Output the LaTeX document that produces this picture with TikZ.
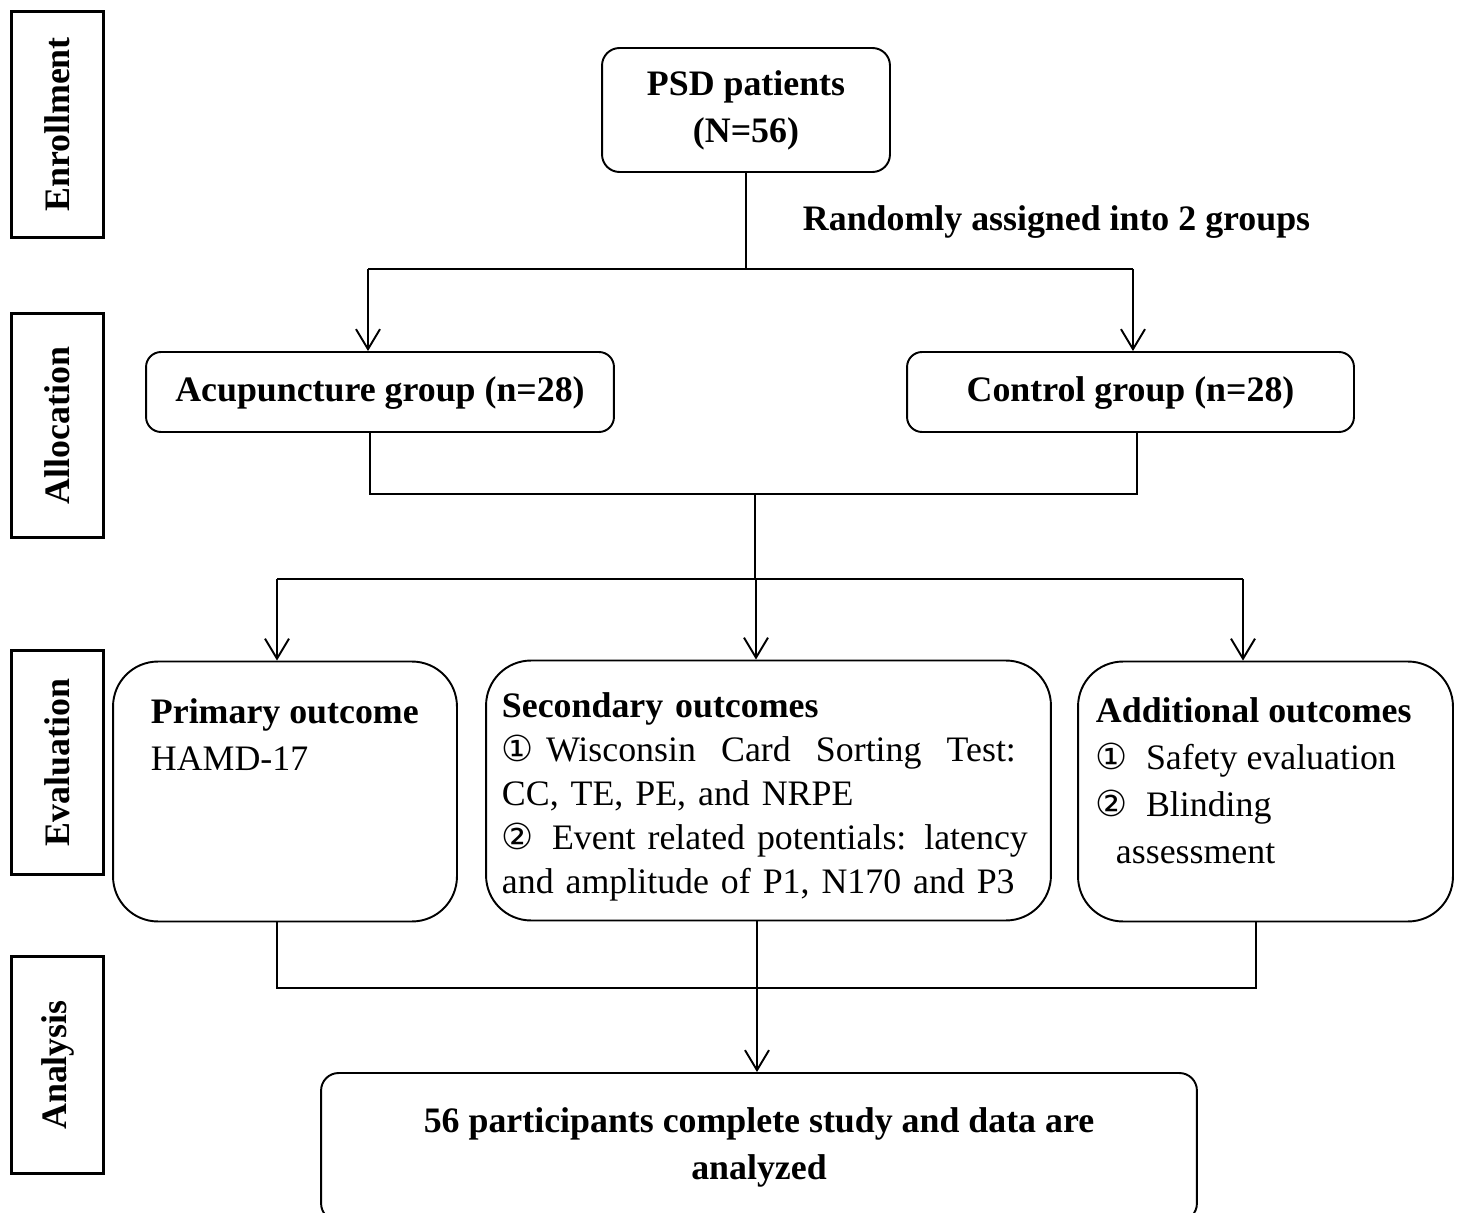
\documentclass[tikz,border=0pt]{standalone}
\usepackage{fontspec}
\setmainfont{Liberation Serif}
\newfontfamily\circfont{DejaVu Sans}
\usetikzlibrary{arrows.meta}

\begin{document}
\begin{tikzpicture}
[x=0.02cm, y=-0.02cm, line width=1.1pt, font=\fontsize{20.4}{25}\selectfont,
stage/.style={draw, line width=1.7pt, rotate=90, font=\fontsize{20.4}{25}\selectfont\bfseries, minimum height=1.86cm, inner sep=0pt},
box/.style={draw, rounded corners=0.35cm, align=center, inner sep=0pt, font=\fontsize{20.4}{26.6}\selectfont\bfseries},
outbox/.style={draw, rounded corners=0.9cm, minimum height=5.2cm, inner sep=0pt},
outtext/.style={anchor=north west, align=left, inner sep=0pt},
arr/.style={-{Straight Barb[length=0.4cm, width=0.48cm]}}]
\useasboundingbox (0,0) rectangle (1461,1213);

% stages
\node[stage, minimum width=4.54cm] (enroll) at (57.5,124.5) {Enrollment};
\node[stage, minimum width=4.5cm] (alloc) at (57.5,425.5) {Allocation};
\node[stage, minimum width=4.5cm] (evalu) at (57.5,762.5) {Evaluation};
\node[stage, minimum width=4.36cm] (analy) at (57.5,1065) {Analysis};

\node[box, minimum width=5.76cm, minimum height=2.48cm, text depth=0.15cm] (psd) at (746,110) {PSD patients\\(N=56)};
\node[font=\fontsize{20.4}{25}\selectfont\bfseries, anchor=west, inner sep=0pt] (rand) at (802,222) {Randomly assigned into 2 groups};
\node[box, rounded corners=0.3cm, minimum width=9.36cm, minimum height=1.6cm, text depth=0.1cm] (acu) at (380,392) {Acupuncture group (n=28)};
\node[box, rounded corners=0.3cm, minimum width=8.94cm, minimum height=1.6cm, text depth=0.1cm] (ctl) at (1130.5,392) {Control group (n=28)};

\node[outbox, minimum width=6.88cm] (prim) at (285,791.5) {};
\node[outbox, minimum width=11.3cm] (sec) at (768.5,790.5) {};
\node[outbox, minimum width=7.5cm] (add) at (1265.5,791.5) {};
\node[outtext, font=\fontsize{20.4}{26.6}\selectfont] (primtxt) at (150,698)
  {\textbf{Primary outcome}\\HAMD-17};
\node[outtext, text width=10.28cm] (sectxt) at (501,692)
  {\textbf{Secondary outcomes}\\
   {\circfont ①} Wisconsin\hfill Card\hfill Sorting\hfill Test:\\
   CC, TE, PE, and NRPE\\
   \mbox{{\circfont ②}\hspace{0.12cm} Event related potentials: latency}\\
   and amplitude of P1, N170 and P3};
\node[outtext, font=\fontsize{20.4}{26.6}\selectfont] (addtxt) at (1095,697)
  {\textbf{Additional outcomes}\\
   {\circfont ①}\ \ Safety evaluation\\
   {\circfont ②}\ \ Blinding\\
   \hspace*{0.4cm}assessment};

\node[box, minimum width=17.52cm, minimum height=2.96cm, text depth=0.15cm] (fin) at (759,1147)
  {56 participants complete study and data are\\analyzed};

\coordinate (forkL) at (368,269);
\coordinate (forkR) at (1133,269);
\draw (psd.south) -- (psd.south |- forkL);
\draw (forkL) -- (forkR);
\draw[arr] (forkL) -- (forkL |- acu.north);
\draw[arr] (forkR) -- (forkR |- ctl.north);

\coordinate (joinL) at (370,494);
\coordinate (joinR) at (1137,494);
\coordinate (joinM) at (755,494);
\draw (acu.south -| joinL) -- (joinL) -- (joinR) -- (ctl.south -| joinR);

\coordinate (splitL) at (277,579);
\coordinate (splitM) at (756,579);
\coordinate (splitR) at (1243,579);
\draw (joinM) -- (joinM |- splitM);
\draw (splitL) -- (splitR);
\draw[arr] (splitL) -- (splitL |- prim.north);
\draw[arr] (splitM) -- (splitM |- sec.north);
\draw[arr] (splitR) -- (splitR |- add.north);

\coordinate (mergeL) at (277,988);
\coordinate (mergeM) at (757,988);
\coordinate (mergeR) at (1256,988);
\draw (prim.south -| mergeL) -- (mergeL) -- (mergeR) -- (add.south -| mergeR);
\draw[arr] (sec.south -| mergeM) -- (mergeM |- fin.north);
\end{tikzpicture}
\end{document}
